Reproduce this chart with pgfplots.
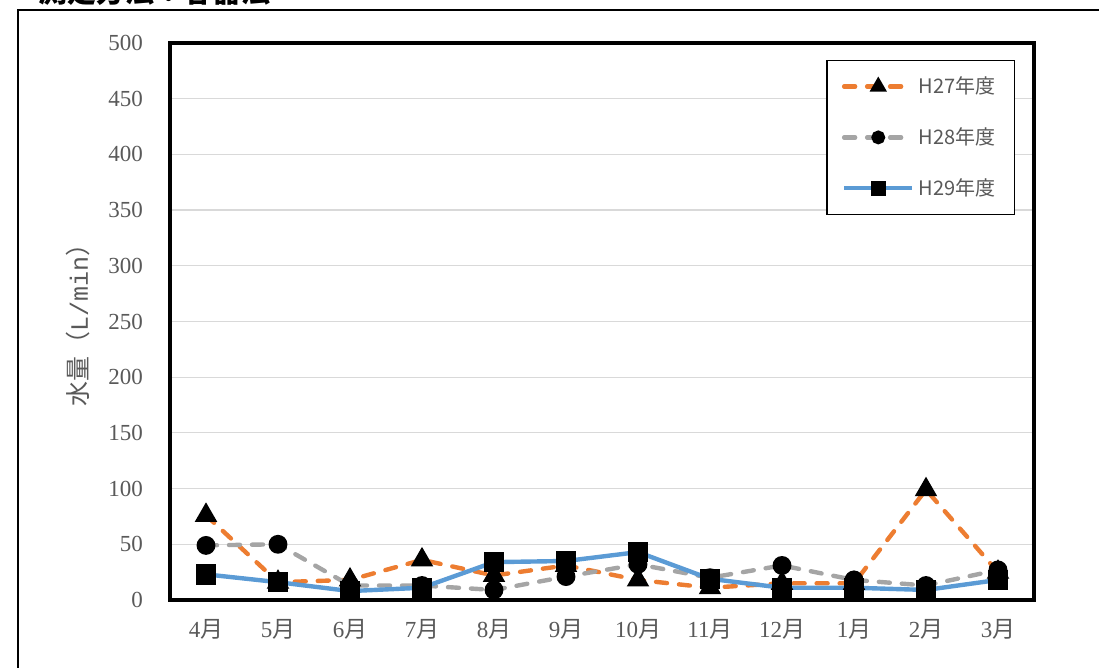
\documentclass[border=0pt]{standalone}
\usepackage{fontspec}
\setmainfont{Liberation Serif}
\setmonofont{Liberation Mono}
\newfontfamily\cjk{Noto Sans CJK JP}
\usepackage{pgfplots}
\pgfplotsset{compat=1.18}
\definecolor{txtgray}{RGB}{89,89,89}
\definecolor{gridgray}{RGB}{217,217,217}
\definecolor{s27}{RGB}{237,125,49}
\definecolor{s28}{RGB}{165,165,165}
\definecolor{s29}{RGB}{91,155,213}
\newcommand{\M}[1]{#1{\cjk 月}}
\begin{document}
\begin{tikzpicture}
  % 1 px of the reference = 0.5pt
  \useasboundingbox (0pt,0pt) rectangle (549.5pt,334pt);
  \draw[line width=0.6pt] (9pt,-10pt) rectangle (560pt,329pt);
  \node[anchor=base west,inner sep=0pt,font=\cjk\bfseries\fontsize{14.5pt}{15pt}\selectfont] at (19pt,332.5pt) {測定方法：容器法};
  \begin{axis}[
      at={(85pt,34pt)}, anchor=south west,
      scale only axis, width=432pt, height=278.5pt,
      xmin=-0.5, xmax=11.5, ymin=0, ymax=500,
      xtick={0,...,11},
      xticklabels={\M4,\M5,\M6,\M7,\M8,\M9,\M{10},\M{11},\M{12},\M1,\M2,\M3},
      ytick={0,50,...,500},
      tick style={draw=none},
      ymajorgrids, grid style={gridgray, line width=0.6pt},
      axis line style={line width=2pt},
      ticklabel style={font=\fontsize{11.5pt}{12pt}\selectfont, text=txtgray},
      /pgf/number format/assume math mode=true,
      yticklabel style={xshift=-10pt},
      xticklabel style={yshift=-6pt},
      ylabel={{\cjk 水量（}\texttt{L/min}{\cjk ）}},
      ylabel style={at={(axis description cs:-0.106,0.505)}, anchor=center, font=\fontsize{12.5pt}{14pt}\selectfont, text=txtgray},
      legend style={at={(0.978,0.9695)}, anchor=north east, draw=black, line width=0.6pt,
        font=\cjk\fontsize{10pt}{11pt}\selectfont, text=txtgray,
        row sep=11.5pt, inner xsep=7.5pt, inner ysep=6pt, cells={anchor=west}},
      legend image code/.code={
        \draw[#1, mark=none] (0cm,0cm) -- (1.2cm,0cm);
        \draw[#1, solid, every mark/.append style={scale=0.65}] plot coordinates {(0.6cm,0cm)};
      },
    ]
    \addplot[s27, line width=2.2pt, line cap=round, dash pattern=on 5.5pt off 6pt,
      mark=triangle*, mark size=4.3pt, mark options={solid, fill=black, draw=black}]
      coordinates {(0,76) (1,16) (2,18) (3,36) (4,22) (5,31) (6,18) (7,11) (8,15) (9,15) (10,99) (11,25)};
    \addplot[s28, line width=2.2pt, line cap=round, dash pattern=on 5.5pt off 6pt,
      mark=*, mark size=3.6pt, mark options={solid, fill=black, draw=black}]
      coordinates {(0,49) (1,50) (2,13) (3,13) (4,9) (5,21) (6,32) (7,20) (8,31) (9,18) (10,13) (11,27)};
    \addplot[s29, line width=2.2pt,
      mark=square*, mark size=4pt, mark options={solid, fill=black, draw=black}]
      coordinates {(0,23) (1,16) (2,8) (3,11) (4,34) (5,35) (6,43) (7,19) (8,11) (9,11) (10,9) (11,18)};
    \legend{H27年度, H28年度, H29年度}
  \end{axis}
\end{tikzpicture}
\end{document}
